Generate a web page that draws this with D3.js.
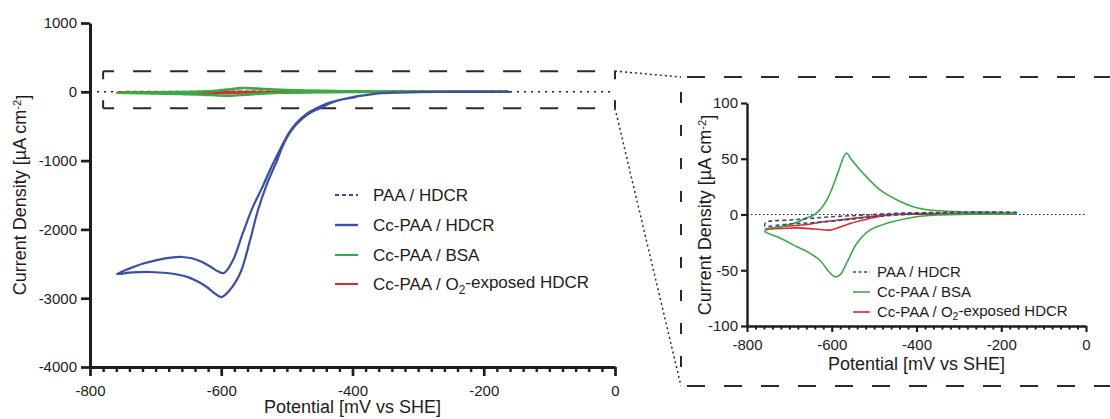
<!DOCTYPE html>
<html>
<head>
<meta charset="utf-8">
<script src="https://cdn.jsdelivr.net/npm/d3@7"></script>
<style>
html,body{margin:0;padding:0;background:#fff;}
svg{display:block;font-family:"Liberation Sans",Arial,sans-serif;}
</style>
</head>
<body>
<svg id="chart" width="1110" height="419"></svg>
<script>
// ---------------- DATA ----------------
// Potentials in mV vs SHE, current density in µA cm^-2
// Cc-PAA / HDCR : cathodic (outer) branch, -160 -> -760
const ccHdcrOut = [[-160,0],[-200,-1],[-250,-2],[-300,-5],[-330,-10],[-358,-20],[-370,-35],[-389,-61],[-400,-85],[-419,-119],[-435,-170],[-450,-240],[-465,-310],[-480,-420],[-493,-560],[-506,-780],[-515,-1000],[-530,-1330],[-544,-1718],[-556,-2154],[-571,-2634],[-587,-2881],[-600,-2983],[-610,-2930],[-622,-2837],[-635,-2760],[-652,-2690],[-683,-2634],[-709,-2619],[-735,-2625],[-759,-2648]];
// Cc-PAA / HDCR : return (inner) branch, -760 -> -160
const ccHdcrIn = [[-759,-2648],[-740,-2570],[-720,-2500],[-700,-2450],[-680,-2415],[-660,-2401],[-645,-2420],[-630,-2470],[-615,-2550],[-605,-2610],[-596,-2634],[-582,-2445],[-567,-2052],[-552,-1677],[-538,-1400],[-524,-1100],[-510,-830],[-497,-600],[-484,-440],[-470,-320],[-455,-240],[-440,-175],[-422,-122],[-405,-88],[-392,-63],[-372,-37],[-360,-22],[-332,-11],[-300,-5],[-250,-2],[-200,-1],[-160,0]];
// PAA / HDCR
const paaHdcrOut = [[-163,2],[-200,1.8],[-300,1.5],[-400,0.5],[-450,-0.5],[-500,-2],[-550,-4],[-600,-6],[-650,-7.5],[-700,-8.5],[-758,-10]];
const paaHdcrIn = [[-758,-10],[-755,-7],[-700,-5],[-650,-3.5],[-600,-2],[-550,-1],[-500,0],[-450,1],[-400,1.5],[-300,2],[-200,2.2],[-163,2]];
// Cc-PAA / BSA
const bsaOut = [[-163,1],[-250,0.5],[-350,-0.5],[-400,-2],[-462,-7],[-510,-14],[-541,-26],[-564,-43],[-580,-54],[-592,-56],[-605,-52],[-628,-41],[-655,-34],[-682,-29],[-722,-21],[-758,-15]];
const bsaIn = [[-758,-15],[-720,-11],[-682,-7],[-660,-3],[-640,0],[-620,8],[-604,19],[-585,38],[-570,53],[-564,55],[-555,50],[-540,43],[-526,37],[-486,22],[-446,13],[-408,7],[-368,4],[-300,2.5],[-220,2],[-163,1.5]];
// Cc-PAA / O2-exposed HDCR
const o2Out = [[-163,0.5],[-300,0.5],[-400,0.3],[-446,0],[-486,-1.5],[-526,-5],[-564,-9],[-590,-12.5],[-604,-14],[-640,-13],[-682,-12],[-720,-12.5],[-758,-13]];
const o2In = [[-758,-13],[-720,-11],[-658,-9],[-620,-6.5],[-581,-5],[-540,-3],[-503,-1.5],[-462,0],[-400,0.8],[-300,1],[-163,0.8]];

const mainYTicks = [1000,0,-1000,-2000,-3000,-4000];
const xTicks = [-800,-600,-400,-200,0];
const insetYTicks = [100,50,0,-50,-100];

const legendMain = ["PAA / HDCR","Cc-PAA / HDCR","Cc-PAA / BSA","Cc-PAA / O2-exposed HDCR"];
const legendInset = ["PAA / HDCR","Cc-PAA / BSA","Cc-PAA / O2-exposed HDCR"];

// ---------------- STYLE ----------------
const C = {blue:"#3b50a3", navy:"#34497f", green:"#3aab44", red:"#dd2a2c", ink:"#1c1c1c"};
const series = {
  paa:{data:paaHdcrOut.concat(paaHdcrIn.slice(1)), color:C.navy, dash:"4,3", w:1.6},
  cc:{data:ccHdcrOut.concat(ccHdcrIn.slice(1)), color:C.blue, dash:null, w:2},
  bsa:{data:bsaOut.concat(bsaIn.slice(1)), color:C.green, dash:null, w:1.6},
  o2:{data:o2Out.concat(o2In.slice(1)), color:C.red, dash:null, w:1.6}
};
const fmt = d => String(d);   // hyphen-minus like the original

const svg = d3.select("#chart");

// ---------------- SCALES ----------------
const xMain = d3.scaleLinear().domain([-800,0]).range([90,615]);
const yMain = d3.scaleLinear().domain([-4000,1000]).range([367,23]);
const xIn = d3.scaleLinear().domain([-800,0]).range([747,1086]);
const yIn = d3.scaleLinear().domain([-100,100]).range([326,103]);

function lineGen(xs, ys){
  return d3.line().x(d=>xs(d[0])).y(d=>ys(d[1])).curve(d3.curveCatmullRom.alpha(0.5));
}

// ---------------- ZOOM BOX & CONNECTORS ----------------
const bx0 = xMain(-780), bx1 = xMain(0), by0 = yMain(300), by1 = yMain(-240);
const big = {x0:681, y0:77, x1:1130, y1:386};
const ann = svg.append("g").attr("stroke","#2a2a2a").attr("fill","none");
ann.append("line").attr("x1",bx0).attr("x2",bx1).attr("y1",by0).attr("y2",by0)
  .attr("stroke-width",2).attr("stroke-dasharray","18,19").attr("stroke-dashoffset",7);
ann.append("line").attr("x1",bx0).attr("x2",bx1).attr("y1",by1).attr("y2",by1)
  .attr("stroke-width",2).attr("stroke-dasharray","18,19").attr("stroke-dashoffset",7);
[bx0,bx1].forEach(x=>{
  ann.append("line").attr("x1",x).attr("x2",x).attr("y1",by0).attr("y2",by1)
    .attr("stroke-width",2).attr("stroke-dasharray",`8,${(by1-by0)-16},8`);
});
ann.append("line").attr("x1",big.x0).attr("x2",big.x1).attr("y1",big.y0).attr("y2",big.y0)
  .attr("stroke-width",2).attr("stroke-dasharray","18,19").attr("stroke-dashoffset",-6);
ann.append("line").attr("x1",big.x0).attr("x2",big.x1).attr("y1",big.y1).attr("y2",big.y1)
  .attr("stroke-width",2).attr("stroke-dasharray","18,19").attr("stroke-dashoffset",-6);
ann.append("line").attr("x1",big.x0).attr("x2",big.x0).attr("y1",big.y0).attr("y2",big.y1)
  .attr("stroke-width",2).attr("stroke-dasharray","11,22").attr("stroke-dashoffset",-15);
ann.append("line").attr("x1",bx1).attr("y1",by0).attr("x2",big.x0).attr("y2",big.y0)
  .attr("stroke-width",1.5).attr("stroke-dasharray","2,3");
ann.append("line").attr("x1",bx1).attr("y1",by1).attr("x2",big.x0).attr("y2",big.y1)
  .attr("stroke-width",1.5).attr("stroke-dasharray","2,3");

// ---------------- MAIN CHART ----------------
const gM = svg.append("g");
gM.append("line").attr("x1",xMain(-800)).attr("x2",xMain(0)).attr("y1",yMain(0)).attr("y2",yMain(0))
  .attr("stroke","#222").attr("stroke-width",1.6).attr("stroke-dasharray","2,5");

const lm = lineGen(xMain,yMain);
["paa","o2","bsa","cc"].forEach(k=>{
  const s = series[k];
  gM.append("path").attr("d",lm(s.data)).attr("fill","none").attr("stroke",s.color)
    .attr("stroke-width",k==="cc"?2.2:2.6).attr("stroke-dasharray",s.dash).attr("stroke-linejoin","round");
});

function styleAxis(g, w, fs){
  g.select(".domain").attr("stroke",C.ink).attr("stroke-width",w);
  g.selectAll(".tick line").attr("stroke",C.ink).attr("stroke-width",w*0.9);
  g.selectAll("text").attr("fill",C.ink).style("font-size",fs+"px").style("font-family",'"Liberation Sans",Arial,sans-serif');
}

const yAxM = gM.append("g").attr("transform",`translate(${xMain(-800)},0)`)
  .call(d3.axisLeft(yMain).tickValues(mainYTicks).tickSize(9).tickSizeOuter(0).tickPadding(4).tickFormat(fmt));
styleAxis(yAxM,3,15);

const minorMain = d3.range(-800,1,20).filter(v=>v%200!==0);
gM.append("g").attr("transform",`translate(0,${yMain(-4000)})`)
  .call(d3.axisBottom(xMain).tickValues(minorMain).tickSize(5).tickFormat(""))
  .call(g=>{g.select(".domain").remove(); g.selectAll(".tick line").attr("stroke",C.ink).attr("stroke-width",2.4);});
const xAxM = gM.append("g").attr("transform",`translate(0,${yMain(-4000)})`)
  .call(d3.axisBottom(xMain).tickValues(xTicks).tickSize(9).tickSizeOuter(0).tickPadding(9).tickFormat(fmt));
styleAxis(xAxM,3,15);

gM.append("text").attr("x",(xMain(-800)+xMain(0))/2).attr("y",413).attr("text-anchor","middle")
  .attr("fill",C.ink).style("font-size","18px").text("Potential [mV vs SHE]");

function yTitle(g, x, y, fs){
  const t = g.append("text").attr("transform",`translate(${x},${y}) rotate(-90)`)
    .attr("text-anchor","middle").attr("fill",C.ink).style("font-size",fs+"px");
  t.append("tspan").text("Current Density [µA cm");
  t.append("tspan").attr("dy","-0.45em").style("font-size",(fs*0.62)+"px").text("-2");
  t.append("tspan").attr("dy","0.45em").text("]");
}
yTitle(gM, 26, 195, 18);

function addLegendText(g, x, y, label, fs){
  const t = g.append("text").attr("x",x).attr("y",y).attr("dy","0.35em").attr("fill",C.ink).style("font-size",fs+"px");
  const m = label.match(/^(.*O)2(-.*)$/);
  if(m){
    t.append("tspan").text(m[1]);
    t.append("tspan").attr("dy","0.3em").style("font-size",(fs*0.7)+"px").text("2");
    t.append("tspan").attr("dy","-0.3em").text(m[2]);
  } else t.text(label);
}

const legM = gM.append("g");
const legMKeys = ["paa","cc","bsa","o2"];
const legMY = [195,225,255,284];
legMKeys.forEach((k,i)=>{
  const s = series[k];
  legM.append("line").attr("x1",335).attr("x2",358).attr("y1",legMY[i]).attr("y2",legMY[i])
    .attr("stroke",s.color).attr("stroke-width",k==="cc"?2.4:2).attr("stroke-dasharray",s.dash);
  addLegendText(legM, 373, legMY[i], legendMain[i], 17);
});

// ---------------- INSET ----------------
const gI = svg.append("g");
gI.append("line").attr("x1",xIn(-800)).attr("x2",xIn(0)).attr("y1",yIn(0)).attr("y2",yIn(0))
  .attr("stroke","#222").attr("stroke-width",1.2).attr("stroke-dasharray","1.5,2.5");
const li = lineGen(xIn,yIn);
["o2","bsa","paa"].forEach(k=>{
  const s = series[k];
  gI.append("path").attr("d",li(s.data)).attr("fill","none").attr("stroke",s.color)
    .attr("stroke-width",s.w).attr("stroke-dasharray",s.dash).attr("stroke-linejoin","round");
});

const yAxI = gI.append("g").attr("transform",`translate(${xIn(-800)},0)`)
  .call(d3.axisLeft(yIn).tickValues(insetYTicks).tickSize(6).tickSizeOuter(0).tickPadding(3).tickFormat(fmt));
styleAxis(yAxI,2.4,15);
const minorIn = d3.range(-800,1,20).filter(v=>v%200!==0);
gI.append("g").attr("transform",`translate(0,${yIn(-100)})`)
  .call(d3.axisBottom(xIn).tickValues(minorIn).tickSize(3.5).tickFormat(""))
  .call(g=>{g.select(".domain").remove(); g.selectAll(".tick line").attr("stroke",C.ink).attr("stroke-width",2);});
const xAxI = gI.append("g").attr("transform",`translate(0,${yIn(-100)})`)
  .call(d3.axisBottom(xIn).tickValues(xTicks).tickSize(6).tickSizeOuter(0).tickPadding(7).tickFormat(fmt));
styleAxis(xAxI,2.4,15);

gI.append("text").attr("x",(xIn(-800)+xIn(0))/2).attr("y",370).attr("text-anchor","middle")
  .attr("fill",C.ink).style("font-size","18px").text("Potential [mV vs SHE]");
yTitle(gI, 711, 215, 18);

const legI = gI.append("g");
const legIKeys = ["paa","bsa","o2"];
const legIY = [272,292,312];
legIKeys.forEach((k,i)=>{
  const s = series[k];
  legI.append("line").attr("x1",853).attr("x2",870).attr("y1",legIY[i]).attr("y2",legIY[i])
    .attr("stroke",s.color).attr("stroke-width",1.6).attr("stroke-dasharray",k==="paa"?"3,2.5":null);
  addLegendText(legI, 877, legIY[i], legendInset[i], 15);
});
</script>
</body>
</html>
